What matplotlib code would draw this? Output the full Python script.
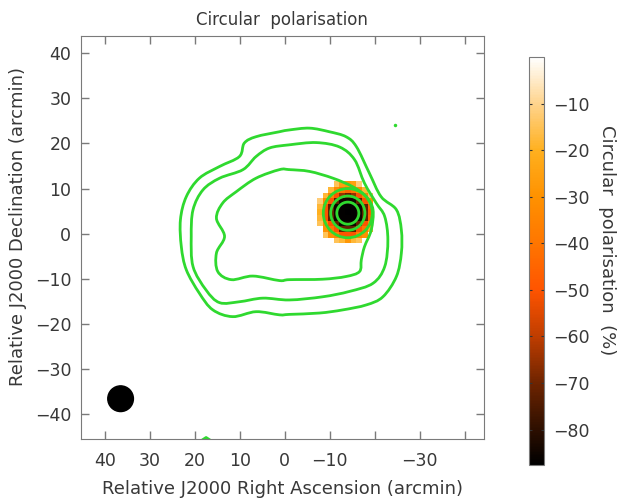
import numpy as np
import matplotlib
matplotlib.use('Agg')
import matplotlib.pyplot as plt
from matplotlib.colors import LinearSegmentedColormap
from matplotlib.patches import Circle, PathPatch
from matplotlib.path import Path

# contour levels of total intensity, traced as (RA offset, Dec offset) in arcmin
contour_outer = np.array([
    (-1.0, 23.0), (-5.5, 23.4), (-9.9, 22.6), (-13.6, 21.5), (-15.9, 19.3),
    (-18.8, 13.4), (-21.4, 8.2), (-24.8, 5.3), (-25.9, 0.8), (-25.9, -4.3),
    (-24.8, -9.5), (-21.8, -14.0), (-18.1, -15.8), (-12.9, -16.9), (-7.7, -17.6),
    (-1.0, -17.9), (1.2, -18.0), (6.4, -17.3), (11.6, -18.4), (16.0, -16.9),
    (19.0, -13.2), (21.9, -8.0), (23.0, -2.9), (23.2, 3.1), (21.9, 8.2),
    (19.0, 12.3), (14.5, 14.9), (10.1, 17.1), (9.0, 20.1), (6.4, 21.5), (1.2, 22.6),
])
contour_middle = np.array([
    (-1.0, 19.7), (-7.0, 20.2), (-12.2, 19.2), (-15.5, 16.4), (-17.7, 11.2),
    (-20.3, 6.8), (-22.2, 3.8), (-22.9, -1.4), (-22.2, -7.3), (-19.6, -11.0),
    (-14.4, -12.8), (-8.4, -14.0), (-1.0, -14.7), (4.9, -14.3), (10.1, -15.1),
    (14.5, -15.3), (17.5, -12.5), (20.4, -7.3), (20.8, -0.6), (20.4, 5.3),
    (18.2, 9.7), (14.5, 12.3), (9.3, 14.2), (6.4, 17.1), (3.4, 19.0),
])
contour_inner = np.array([
    (-1.0, 14.2), (-5.5, 13.8), (-10.7, 12.3), (-15.1, 10.4), (-18.1, 8.2),
    (-19.6, 5.3), (-19.2, 0.8), (-17.7, -2.9), (-17.0, -5.8), (-16.6, -8.4),
    (-13.6, -9.5), (-8.4, -10.1), (-1.0, -10.2), (1.2, -10.4), (7.1, -9.4),
    (11.9, -10.2), (14.9, -8.4), (15.2, -4.3), (13.4, -0.6), (15.2, 3.4),
    (13.8, 6.8), (10.8, 9.3), (6.4, 12.3), (1.2, 14.2),
])
contour_edge = np.array([(19.5, -46.5), (17.5, -45.2), (15.5, -46.5)])
speck = (-24.5, 24.2)

# compact source: centre and contour radii (arcmin)
src_ra, src_dec = -14.0, 4.55
src_radii = [2.45, 3.8, 5.45]

# beam
beam_ra, beam_dec, beam_r = 36.5, -36.6, 2.85

# circular polarisation pixels (%)
cp_ra = np.array([-7.75, -9.0, -10.25, -11.5, -12.75, -14.0, -15.25, -16.5, -17.75, -19.0])
cp_dec = np.array([-1.5, -0.25, 1.0, 2.25, 3.5, 4.75, 6.0, 7.25, 8.5, 9.75, 11.0])
nan = np.nan
cp = np.array([
    [nan, nan, nan, -15, -18, -28, -18, -15, nan, nan],
    [nan, -15, -30, -35, -50, -50, -50, -35, -30, nan],
    [nan, -30, -40, -50, -72, -72, -72, -50, -40, -20],
    [-15, -32, -50, -72, -85, -85, -85, -72, -50, -30],
    [-18, -50, -72, -85, -87, -87, -87, -85, -72, -45],
    [-20, -50, -72, -85, -87, -88, -87, -85, -72, -48],
    [-18, -50, -72, -85, -87, -87, -87, -85, -72, -45],
    [-12, -32, -50, -72, -85, -85, -85, -72, -50, -30],
    [nan, -18, -35, -50, -65, -72, -65, -50, -35, -15],
    [nan, nan, -18, -32, -40, -45, -40, -32, -18, nan],
    [nan, nan, nan, -15, -25, -28, -25, -12, nan, nan],
])
cp_min, cp_max = -87.6, 0.0

ra_ticks = [40, 30, 20, 10, 0, -10, -20, -30, -40]
ra_labels = ['40', '30', '20', '10', '0', '\u221210', '', '\u221230', '']
dec_ticks = [40, 30, 20, 10, 0, -10, -20, -30, -40]
cb_ticks = [-10, -20, -30, -40, -50, -60, -70, -80]

txt = '#383838'
frame = '#7a7a7a'
green = '#2fd92f'

heat = LinearSegmentedColormap.from_list('heat', [
    (0.0, (0, 0, 0)),
    (0.087, (0.18, 0.06, 0.0)),
    (0.2, (0.43, 0.14, 0.0)),
    (0.315, (0.75, 0.24, 0.0)),
    (0.43, (1.0, 0.33, 0.0)),
    (0.543, (1.0, 0.46, 0.0)),
    (0.658, (1.0, 0.57, 0.0)),
    (0.772, (1.0, 0.69, 0.12)),
    (0.886, (1.0, 0.83, 0.55)),
    (1.0, (1, 1, 1)),
])


def smooth_loop(pts):
    # closed curve through the traced points (Catmull-Rom drawn as Bezier segments)
    n = len(pts)
    verts = [pts[0]]
    codes = [Path.MOVETO]
    for i in range(n):
        p0, p1, p2, p3 = pts[i - 1], pts[i], pts[(i + 1) % n], pts[(i + 2) % n]
        verts += [p1 + (p2 - p0) / 6, p2 - (p3 - p1) / 6, p2]
        codes += [Path.CURVE4] * 3
    return Path(verts, codes)


plt.rcParams['font.family'] = 'DejaVu Sans'
fig = plt.figure(figsize=(6.17, 5), dpi=100)
ax = fig.add_axes([81 / 617, 1 - 439.3 / 500, 402.7 / 617, 403.6 / 500])

mesh = ax.pcolormesh(cp_ra, cp_dec, np.ma.masked_invalid(cp), shading='nearest',
                     cmap=heat, vmin=cp_min, vmax=cp_max)

for c in [contour_outer, contour_middle, contour_inner]:
    ax.add_patch(PathPatch(smooth_loop(c), fill=False, ec=green, lw=2.0))
ax.plot(contour_edge[:, 0], contour_edge[:, 1], color=green, lw=2.0)
ax.plot(*speck, 'o', color=green, ms=2.5, mec='none')
for r in src_radii:
    ax.add_patch(Circle((src_ra, src_dec), r, fill=False, ec=green, lw=2.0))
ax.add_patch(Circle((beam_ra, beam_dec), beam_r, color='black'))

ax.set_xlim(45.3, -44.2)
ax.set_ylim(-45.6, 43.9)
ax.set_xticks(ra_ticks)
ax.set_xticklabels(ra_labels)
ax.set_yticks(dec_ticks)
ax.set_yticklabels([str(t).replace('-', '\u2212') for t in dec_ticks])
ax.tick_params(direction='in', length=5.5, width=1, color=frame, labelcolor=txt,
               labelsize=12.5, top=True, right=True)
ax.tick_params(axis='x', pad=9.5)
ax.tick_params(axis='y', pad=7)
for s in ax.spines.values():
    s.set_color(frame)

fig.text(282 / 617, 1 - 20 / 500, 'Circular  polarisation', ha='center', va='center',
         fontsize=12, color=txt)
fig.text(282 / 617, 1 - 489 / 500, 'Relative J2000 Right Ascension (arcmin)',
         ha='center', va='center', fontsize=13, color=txt)
fig.text(18 / 617, 1 - 227 / 500, 'Relative J2000 Declination (arcmin)',
         ha='center', va='center', rotation=90, fontsize=13, color=txt)

cax = fig.add_axes([529 / 617, 1 - 465 / 500, 15 / 617, 408 / 500])
cb = fig.colorbar(mesh, cax=cax)
cb.set_ticks(cb_ticks)
cb.set_ticklabels([str(t).replace('-', '\u2212') for t in cb_ticks])
cb.outline.set_edgecolor(frame)
cax.tick_params(direction='in', length=2.5, width=0.8, color='#333333', labelcolor=txt,
                labelsize=12.5, left=True, right=True, pad=6.5)
fig.text(607 / 617, 1 - 240 / 500, 'Circular  polarisation  (%)', ha='center', va='center',
         rotation=270, fontsize=13, color=txt)

fig.savefig('out.png', dpi=100)
